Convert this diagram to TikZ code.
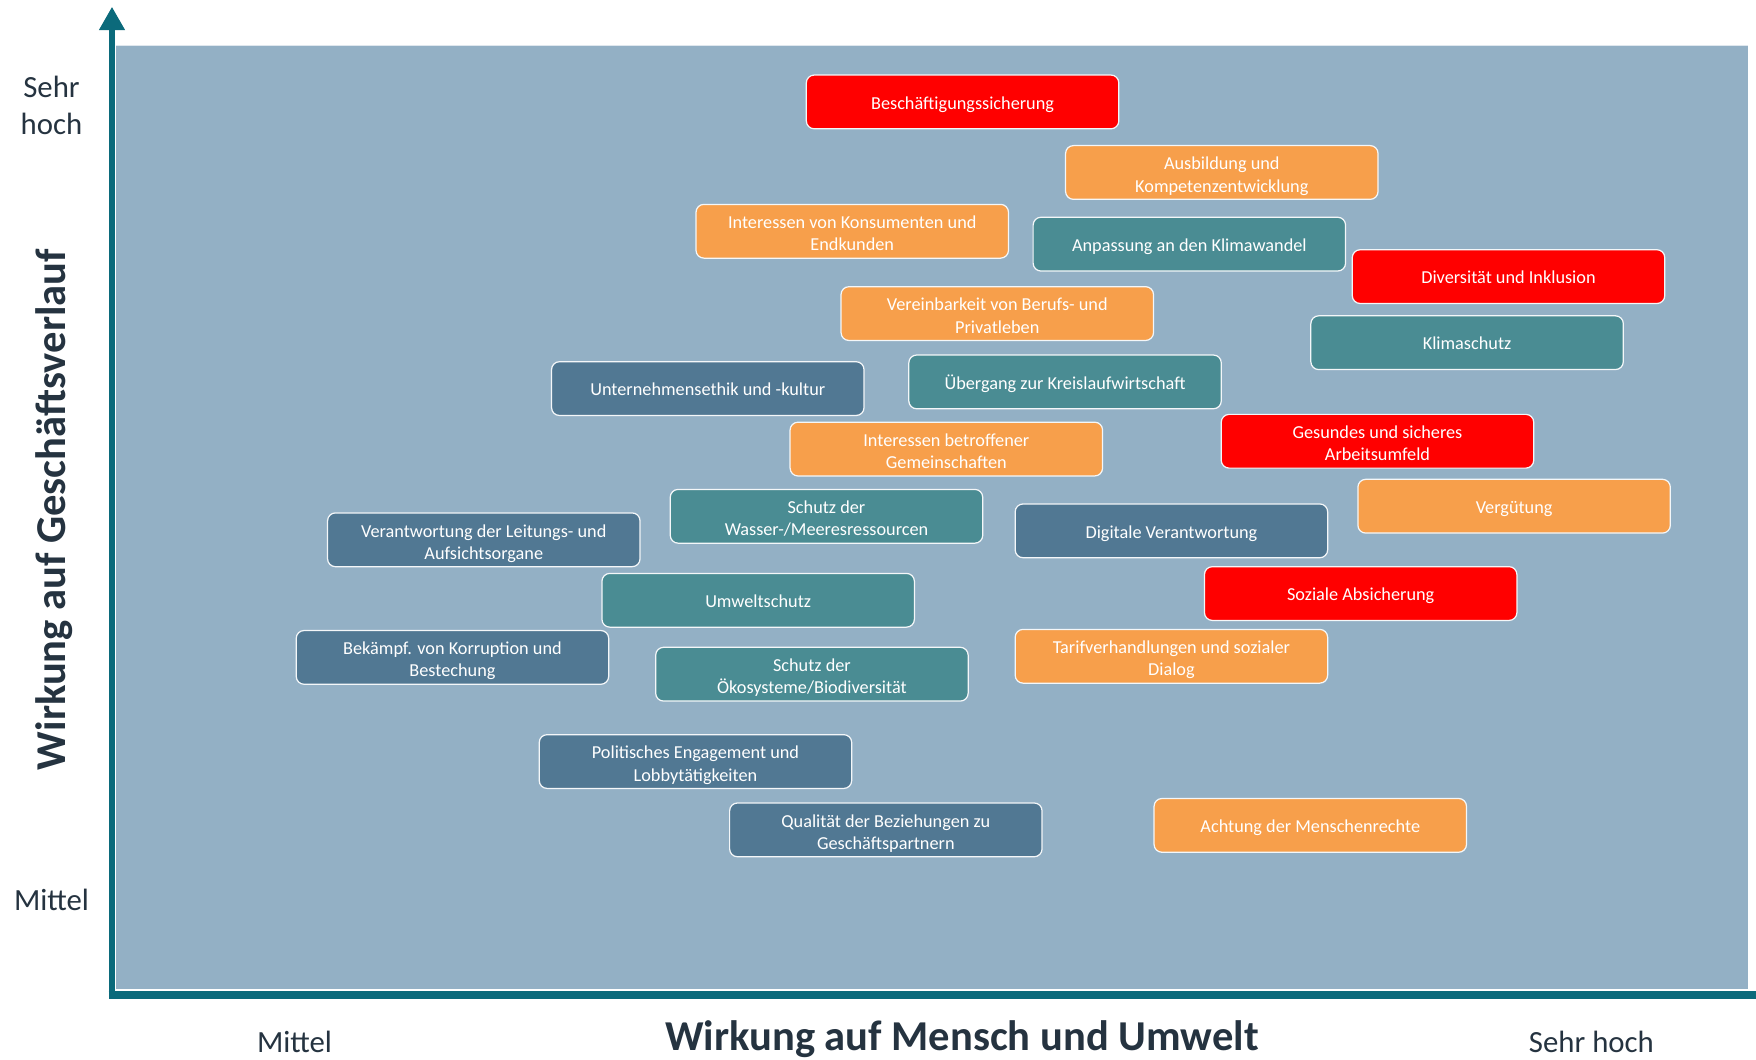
\documentclass[tikz,border=0pt]{standalone}
\usepackage{fontspec}
\setmainfont{Carlito}
\usetikzlibrary{arrows.meta}
\definecolor{bgblue}{HTML}{93B0C5}
\definecolor{axisteal}{HTML}{0B6A7B}
\definecolor{darktext}{HTML}{253340}
\definecolor{cred}{HTML}{FF0000}
\definecolor{corange}{HTML}{F79F4B}
\definecolor{cteal}{HTML}{4A8C93}
\definecolor{cslate}{HTML}{517893}
\newcommand\twolines[2]{\rule{0pt}{19.5pt}#1\\#2\rule[-4.5pt]{0pt}{4.5pt}}
\tikzset{
  topic/.style={rounded corners=7pt, draw=white!90!bgblue, line width=1.1pt,
    minimum width=279pt, minimum height=48pt, inner sep=0pt, align=center,
    text=white, font=\fontsize{16.3}{20}\selectfont},
  one/.style={execute at begin node={\rule{0pt}{17.5pt}},
    execute at end node={\rule[-4.5pt]{0pt}{4.5pt}}},
  rd/.style={topic, fill=cred},
  og/.style={topic, fill=corange},
  tl/.style={topic, fill=cteal},
  sl/.style={topic, fill=cslate},
  axislbl/.style={text=darktext, font=\fontsize{27.5}{33}\selectfont, align=center, inner sep=0pt},
  axistitle/.style={text=darktext, font=\fontsize{38}{42}\selectfont\bfseries, inner sep=0pt},
  axisline/.style={draw=axisteal}
}
\begin{document}
\begin{tikzpicture}[x=1pt,y=-1pt]
\useasboundingbox (0,0) rectangle (1568,946);
% background panel
\fill[bgblue] (104,40) rectangle (1561,883);
\draw[white!70!bgblue, line width=1pt] (104,40.5) -- (1561,40.5);
% axes
\coordinate (origin) at (100,891.5);
\coordinate (ytip) at (100,6);
\coordinate (xstart) at (97,888.5);
\coordinate (xend) at (1568,888.5);
\draw[axisline, line width=7pt] (xstart) -- (xend);
\draw[axisline, line width=6pt, -{Triangle[width=22pt,length=21pt]}] (origin) -- (ytip);
% axis labels
\node[axislbl] (yhigh) at (46,94) {Sehr\\hoch};
\node[axislbl] (ymid) at (46,804) {Mittel};
\node[axislbl] (xmid) at (263,930) {Mittel};
\node[axislbl] (xhigh) at (1421,930) {Sehr hoch};
\node[axistitle] (xtitle) at (859,928) {Wirkung auf Mensch und Umwelt};
\node[axistitle, rotate=90] (ytitle) at (48,455) {Wirkung auf Geschäftsverlauf};
% topics
\node[rd, one] (t1) at (859.5,91) {Beschäftigungssicherung};
\node[og] (t2) at (1091,154) {\twolines{Ausbildung und}{Kompetenzentwicklung}};
\node[og] (t3) at (761,206.5) {\twolines{Interessen von Konsumenten und}{Endkunden}};
\node[tl, one] (t4) at (1062,218) {Anpassung an den Klimawandel};
\node[rd, one] (t5) at (1347,247) {Diversität und Inklusion};
\node[og] (t6) at (890.5,280) {\twolines{Vereinbarkeit von Berufs- und}{Privatleben}};
\node[tl, one] (t7) at (1310,306) {Klimaschutz};
\node[sl, one] (t8) at (632,347) {Unternehmensethik und -kultur};
\node[tl, one] (t9) at (951,341) {Übergang zur Kreislaufwirtschaft};
\node[og] (t10) at (845,401) {\twolines{Interessen betroffener}{Gemeinschaften}};
\node[rd] (t11) at (1230,394) {\twolines{Gesundes und sicheres}{Arbeitsumfeld}};
\node[tl] (t12) at (738,461) {\twolines{Schutz der}{Wasser-/Meeresressourcen}};
\node[og, one] (t13) at (1352,452) {Vergütung};
\node[sl] (t14) at (432,482) {\twolines{Verantwortung der Leitungs- und}{Aufsichtsorgane}};
\node[sl, one] (t15) at (1046,474) {Digitale Verantwortung};
\node[rd, one] (t16) at (1215,530) {Soziale Absicherung};
\node[tl, one] (t17) at (677,536) {Umweltschutz};
\node[sl] (t18) at (404,587) {\twolines{Bekämpf. von Korruption und}{Bestechung}};
\node[og] (t19) at (1046,586) {\twolines{Tarifverhandlungen und sozialer}{Dialog}};
\node[tl] (t20) at (725,602) {\twolines{Schutz der}{Ökosysteme/Biodiversität}};
\node[sl] (t21) at (621,680) {\twolines{Politisches Engagement und}{Lobbytätigkeiten}};
\node[sl] (t22) at (791,741) {\twolines{Qualität der Beziehungen zu}{Geschäftspartnern}};
\node[og, one] (t23) at (1170,737) {Achtung der Menschenrechte};
\end{tikzpicture}
\end{document}
